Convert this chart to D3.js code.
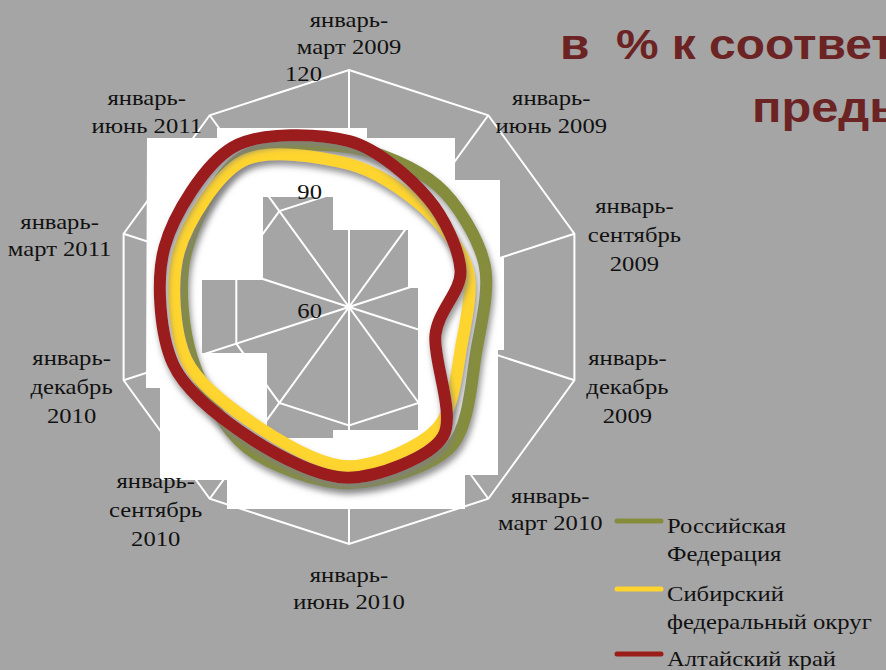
<!DOCTYPE html>
<html>
<head>
<meta charset="utf-8">
<script src="https://cdn.jsdelivr.net/npm/d3@7"></script>
<style>
  html, body { margin: 0; padding: 0; background: #a5a5a5; }
  svg { display: block; }
  text { font-family: "Liberation Serif", "Times New Roman", serif; fill: #111; }
</style>
</head>
<body>
<div id="chart"></div>
<script>
// periods (spokes), clockwise from the top
var categories = [
    ["январь-", "март 2009"],
    ["январь-", "июнь 2009"],
    ["январь-", "сентябрь", "2009"],
    ["январь-", "декабрь", "2009"],
    ["январь-", "март 2010"],
    ["январь-", "июнь 2010"],
    ["январь-", "сентябрь", "2010"],
    ["январь-", "декабрь", "2010"],
    ["январь-", "март 2011"],
    ["январь-", "июнь 2011"]
];

var seriesNames = [["Российская", "Федерация"], ["Сибирский", "федеральный округ"], ["Алтайский край"]];
var rfValues     = [100.5, 98, 96, 94, 103.8, 104.6, 104, 101.8, 103.5, 106.6];
var sfoValues    = [96.2, 91.5, 91.5, 90, 98, 100.3, 98, 103.3, 105.3, 105.7];
var altaiValues  = [102, 94, 89.7, 83, 100.5, 103.2, 101.5, 106.8, 109.1, 110];
var tickValues   = [60, 90, 120];
var titleLines   = ["в  % к соответствующему периоду", "предыдущего года"];

var width = 886, height = 670;
var cx = 349, cy = 307, R = 237;
var SX = 1.12; // the source text is a bit wide

var svg = d3.select("#chart").append("svg")
    .attr("width", width)
    .attr("height", height);

svg.append("rect").attr("width", width).attr("height", height).attr("fill", "#a5a5a5");

var defs = svg.append("defs");
var f = defs.append("filter").attr("id", "shadow")
    .attr("x", "-20%").attr("y", "-20%").attr("width", "140%").attr("height", "140%");
f.append("feGaussianBlur").attr("in", "SourceAlpha").attr("stdDeviation", 3).attr("result", "blur");
f.append("feOffset").attr("in", "blur").attr("dx", 2).attr("dy", 5).attr("result", "off");
f.append("feFlood").attr("flood-color", "#808080").attr("flood-opacity", 0.85);
f.append("feComposite").attr("in2", "off").attr("operator", "in").attr("result", "sh");
var fm = f.append("feMerge");
fm.append("feMergeNode").attr("in", "sh");
fm.append("feMergeNode").attr("in", "SourceGraphic");

var g = svg.append("g").attr("transform", "translate(" + cx + "," + cy + ")");

var rScale = d3.scaleLinear().domain([60, 120]).range([0, R]);
var aScale = d3.scaleLinear().domain([0, categories.length]).range([0, 2 * Math.PI]);

function pt(i, v) {
    var a = aScale(i), r = rScale(v);
    return [Math.sin(a) * r, -Math.cos(a) * r];
}

// grid rings
tickValues.slice(1).forEach(function(t) {
    var pts = categories.map(function(c, i) { return pt(i, t); });
    g.append("polygon")
        .attr("points", pts.map(function(p) { return p.join(","); }).join(" "))
        .attr("fill", "none").attr("stroke", "#fff").attr("stroke-width", 2);
});

// spokes
categories.forEach(function(c, i) {
    var p = pt(i, 120);
    g.append("line").attr("x1", 0).attr("y1", 0).attr("x2", p[0]).attr("y2", p[1])
        .attr("stroke", "#fff").attr("stroke-width", 2);
});

// white blocky backdrop from the original slide (offsets from centre, with a hole)
var backOuter = [[-202,-169],[-132,-169],[-132,-179],[18,-179],[18,-169],[106,-169],[106,-127],[151,-127],
    [151,-50],[155,-50],[155,43],[149,43],[149,168],[116,168],[116,202],[-122,202],[-122,173],[-189,173],
    [-189,81],[-203,81]];
var backHole = [[-86,-110],[-16,-110],[-16,-77],[59,-77],[59,-19],[69,-19],[69,123],[-16,123],[-16,131],
    [-82,131],[-82,46],[-147,46],[-147,-27],[-86,-27]];
g.append("path")
    .attr("d", "M" + backOuter.join("L") + "Z M" + backHole.join("L") + "Z")
    .attr("fill", "#fff").attr("fill-rule", "evenodd");

// tick labels
tickValues.forEach(function(t) {
    g.append("text")
        .attr("transform", "translate(-27," + (-rScale(t) + 3) + ") scale(" + SX + ",1)")
        .attr("text-anchor", "end").attr("dominant-baseline", "central")
        .style("font-size", "22px").text(t);
});

// series
var series = [
    {values: rfValues, color: "#858d3c"},
    {values: sfoValues, color: "#fed42f"},
    {values: altaiValues, color: "#9a1d1a"}
];

var line = d3.lineRadial()
    .angle(function(d, i) { return aScale(i); })
    .radius(function(d) { return rScale(d); })
    .curve(d3.curveCardinalClosed.tension(0.1));

series.forEach(function(s) {
    g.append("path")
        .datum(s.values)
        .attr("fill", "none")
        .attr("stroke", s.color)
        .attr("stroke-width", 12)
        .attr("stroke-linejoin", "round")
        .attr("filter", "url(#shadow)")
        .attr("d", line);
});

// category labels (offsets of the label block from each outer vertex)
var labelOffsets = [[0,-37],[63,-4],[60,1],[53,6],[62,10],[0,44],[-54,11],[-52,6],[-64,1],[-63,-4]];
categories.forEach(function(c, i) {
    var p = pt(i, 120);
    var lx = p[0] + labelOffsets[i][0], ly = p[1] + labelOffsets[i][1];
    var lh = c.length > 2 ? 29 : 27.5;
    c.forEach(function(s, k) {
        g.append("text")
            .attr("transform", "translate(" + lx + "," + (ly + (k - (c.length - 1) / 2) * lh) + ") scale(" + SX + ",1)")
            .attr("text-anchor", "middle").attr("dominant-baseline", "central")
            .style("font-size", "22px").text(s);
    });
});

// legend
var legend = svg.append("g").attr("transform", "translate(615,521)");
var legendY = [0, 68, 133];
series.forEach(function(s, i) {
    var lg = legend.append("g").attr("transform", "translate(0," + legendY[i] + ")");
    lg.append("line").attr("x1", 2).attr("x2", 46).attr("y1", 0).attr("y2", 0)
        .attr("stroke", s.color).attr("stroke-width", 5).attr("stroke-linecap", "round");
    seriesNames[i].forEach(function(n, k) {
        lg.append("text")
            .attr("transform", "translate(52," + (4 + k * 28) + ") scale(" + SX + ",1)")
            .attr("dominant-baseline", "central")
            .style("font-size", "22px").text(n);
    });
});

// title (cut off by the right edge, as in the slide)
var title = svg.append("g");
title.append("text")
    .attr("transform", "translate(560,59) scale(1.14,1)")
    .style("font-family", "'Liberation Sans', Arial, sans-serif")
    .style("font-weight", "bold").style("font-size", "42px")
    .style("fill", "#6c2323").style("white-space", "pre")
    .text(titleLines[0]);
title.append("text")
    .attr("transform", "translate(752,122) scale(1.16,1)")
    .style("font-family", "'Liberation Sans', Arial, sans-serif")
    .style("font-weight", "bold").style("font-size", "42px")
    .style("fill", "#6c2323")
    .text(titleLines[1]);
</script>
</body>
</html>
